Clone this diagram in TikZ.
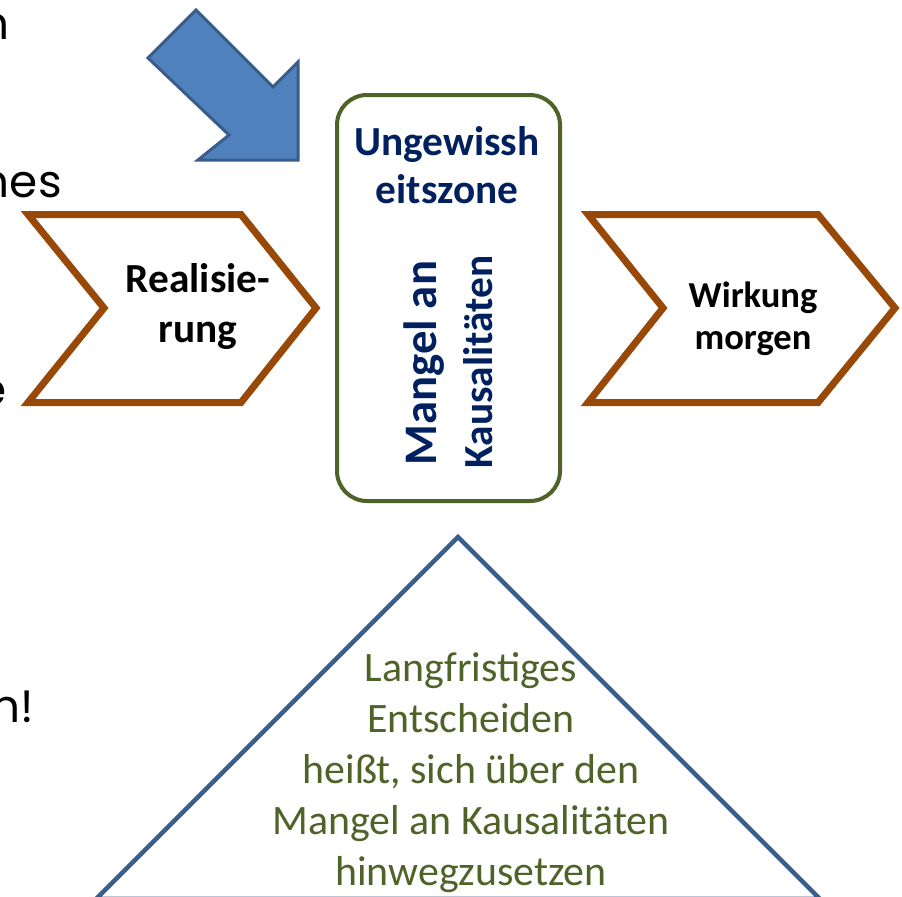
\documentclass[tikz,border=0pt]{standalone}
\usepackage{fontspec}
\setmainfont{Carlito}
\newfontfamily\gothic{Poppins}
\definecolor{brn}{HTML}{984807}
\definecolor{olv}{HTML}{4F6228}
\definecolor{nvy}{HTML}{002060}
\definecolor{bfill}{HTML}{4F81BD}
\definecolor{bline}{HTML}{385D8A}
\begin{document}
\begin{tikzpicture}[x=0.75pt,y=-0.75pt,
  chev/.style={draw=brn,line width=5.25pt,line join=miter,fill=white},
  boldlbl/.style={font=\bfseries,align=center,anchor=base},
  frag/.style={font=\gothic\fontsize{34}{40}\selectfont,anchor=base east,inner sep=0pt,text=black}]
\useasboundingbox (0,0) rectangle (902,896);
% blue arrow
\draw[fill=bfill,draw=bline,line width=2.25pt,line join=miter]
  (196,10) -- (273,87) -- (298,62) -- (298,160) -- (198,160) -- (229,135) -- (148,58) -- cycle;
% chevrons
\draw[chev] (28,214.5) -- (241,214.5) -- (316,308) -- (241,402.5) -- (28,402.5) -- (104,308) -- cycle;
\draw[chev] (588,214.5) -- (818,214.5) -- (895,308) -- (818,402.5) -- (588,402.5) -- (663,308) -- cycle;
% box
\draw[draw=olv,line width=3pt,rounded corners=22.5pt,fill=white] (337,95) rectangle (560,501);
% triangle
\draw[draw=bline,line width=3.4pt,line join=miter] (458,537) -- (820,899) -- (96,899) -- cycle;
% texts
\node[boldlbl,font=\bfseries\fontsize{31}{37.5}\selectfont] (real) at (198,342) {Realisie-\\rung};
\node[boldlbl,font=\bfseries\fontsize{27.4}{31.5}\selectfont] (wirk) at (753,349) {Wirkung\\morgen};
\node[boldlbl,text=nvy,font=\bfseries\fontsize{31}{36}\selectfont] (ung) at (447,203) {Ungewissh\\eitszone};
\node[anchor=base,rotate=90,text=nvy,font=\bfseries\fontsize{35}{40}\selectfont,inner sep=0pt] (mang) at (436,363) {Mangel an};
\node[anchor=base,rotate=90,text=nvy,font=\bfseries\fontsize{31}{36}\selectfont,inner sep=0pt] (kaus) at (492,362) {Kausalitäten};
\node[anchor=base,align=center,text=olv,font=\fontsize{31.4}{38.25}\selectfont] (lang) at (471,885)
  {Langfristiges\\Entscheiden\\heißt, sich über den\\Mangel an Kausalitäten\\hinwegzusetzen};
% fragments at the left edge
\node[frag] (f1) at (10,39) {n};
\node[frag] (f2) at (62,197) {nes};
\node[frag] (f3) at (7,405) {e};
\node[frag] (f4) at (34,722) {n!};
\end{tikzpicture}
\end{document}
